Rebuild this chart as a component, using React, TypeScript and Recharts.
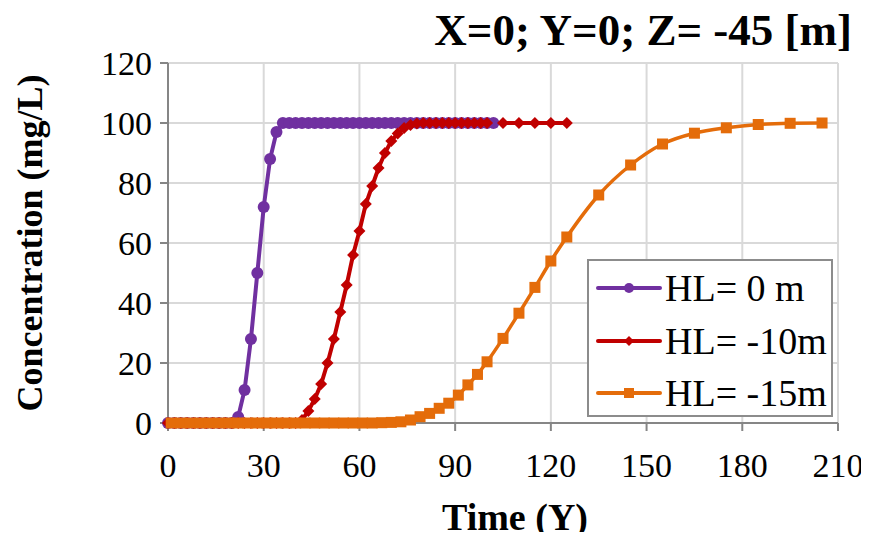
import React from 'react'
import {
  LineChart,
  Line,
  XAxis,
  YAxis,
  CartesianGrid,
} from 'recharts'

// ---------------------------------------------------------------------------
// Data
// ---------------------------------------------------------------------------

const HL0_T = [
  0, 2, 4, 6, 8, 10, 12, 14, 16, 18, 20, 22, 24, 26, 28, 30, 32, 34, 36, 38,
  40, 42, 44, 46, 48, 50, 52, 54, 56, 58, 60, 62, 64, 66, 68, 70, 72, 74, 76,
  78, 80, 82, 84, 86, 88, 90, 92, 94, 96, 98, 100, 102,
]
const HL0_C = [
  0, 0, 0, 0, 0, 0, 0, 0, 0, 0, 0, 2, 11, 28, 50, 72, 88, 97, 100, 100,
  100, 100, 100, 100, 100, 100, 100, 100, 100, 100, 100, 100, 100, 100, 100, 100, 100, 100, 100,
  100, 100, 100, 100, 100, 100, 100, 100, 100, 100, 100, 100, 100,
]

const HL10_T = [
  0, 2, 4, 6, 8, 10, 12, 14, 16, 18, 20, 22, 24, 26, 28, 30, 32, 34, 36, 38,
  40, 42, 44, 46, 48, 50, 52, 54, 56, 58, 60, 62, 64, 66, 68, 70, 72, 74, 76,
  78, 80, 82, 84, 86, 88, 90, 92, 94, 96, 98, 100, 105, 110, 115, 120, 125,
]
const HL10_C = [
  0, 0, 0, 0, 0, 0, 0, 0, 0, 0, 0, 0, 0, 0, 0, 0, 0, 0, 0, 0,
  0, 1, 4, 8, 13, 20, 28, 37, 46, 56, 64, 73, 79, 85, 90, 94, 96.5, 98.3, 99.3,
  99.8, 100, 100, 100, 100, 100, 100, 100, 100, 100, 100, 100, 100, 100, 100, 100, 100,
]

const HL15_T = [
  1, 4, 7, 10, 13, 16, 19, 22, 25, 28, 31, 34, 37, 40, 43, 46, 49, 52, 55, 58,
  61, 64, 67, 70, 73, 76, 79, 82, 85, 88, 91, 94, 97, 100, 105, 110, 115, 120,
  125, 135, 145, 155, 165, 175, 185, 195, 205,
]
const HL15_C = [
  0, 0, 0, 0, 0, 0, 0, 0, 0, 0, 0, 0, 0, 0, 0, 0, 0, 0, 0, 0,
  0, 0, 0.1, 0.2, 0.4, 1, 2.1, 3.2, 4.9, 6.6, 9.3, 12.7, 16.2, 20.4, 28.2, 36.6, 45.2, 54,
  62, 76, 86, 93, 96.6, 98.4, 99.5, 99.9, 100,
]

const X_TICKS = [0, 30, 60, 90, 120, 150, 180, 210]
const Y_TICKS = [0, 20, 40, 60, 80, 100, 120]

const zip = (t: number[], c: number[]) => t.map((v, i) => ({ t: v, c: c[i] }))

const SERIES = [
  { name: 'HL= 0 m', color: '#7030A0', shape: 'circle', data: zip(HL0_T, HL0_C) },
  { name: 'HL= -10m', color: '#C00000', shape: 'diamond', data: zip(HL10_T, HL10_C) },
  { name: 'HL= -15m', color: '#E46C0A', shape: 'square', data: zip(HL15_T, HL15_C) },
]

const FONT = '"Liberation Serif", "Times New Roman", serif'

// ---------------------------------------------------------------------------
// Markers
// ---------------------------------------------------------------------------

function Marker({ cx, cy, shape, color, size = 6 }: any) {
  if (cx == null || cy == null) return null
  if (shape === 'circle') return <circle cx={cx} cy={cy} r={size} fill={color} />
  if (shape === 'diamond') {
    const s = size
    return (
      <polygon
        points={`${cx},${cy - s} ${cx + s},${cy} ${cx},${cy + s} ${cx - s},${cy}`}
        fill={color}
      />
    )
  }
  return <rect x={cx - size} y={cy - size} width={size * 2} height={size * 2} fill={color} />
}

// legend drawn as an overlay so it doesn't eat plot height
function LegendBox() {
  return (
    <div
      style={{
        position: 'absolute',
        left: 587,
        top: 259,
        width: 246,
        height: 158,
        border: '2px solid #8c8c8c',
        boxSizing: 'border-box',
        background: '#fff',
        fontFamily: FONT,
        fontSize: 38,
        color: '#000',
        padding: '1px 0 0 7px',
        whiteSpace: 'nowrap',
      }}
    >
      {SERIES.map((s) => (
        <div key={s.name} style={{ display: 'flex', alignItems: 'center', height: 52.5 }}>
          <svg width={66} height={20} style={{ marginRight: 3, flexShrink: 0 }}>
            <line x1={2} y1={10} x2={64} y2={10} stroke={s.color} strokeWidth={4} strokeLinecap="round" />
            <Marker cx={33} cy={10} shape={s.shape} color={s.color} size={5} />
          </svg>
          <span style={{ lineHeight: 1 }}>{s.name}</span>
        </div>
      ))}
    </div>
  )
}

// ---------------------------------------------------------------------------
// Chart
// ---------------------------------------------------------------------------

export default function App() {
  const tickStyle = { fontFamily: FONT, fontSize: 34, fill: '#000' }
  return (
    <div style={{ position: 'relative', width: 869, height: 540, margin: -8, background: '#fff', overflow: 'hidden' }}>
      <LineChart
        width={869}
        height={540}
        margin={{ top: 63, right: 31, bottom: 0, left: 0 }}
        style={{ fontFamily: FONT }}
      >
        <CartesianGrid stroke="#d9d9d9" strokeWidth={2} />
        <XAxis
          type="number"
          dataKey="t"
          domain={[0, 210]}
          ticks={X_TICKS}
          interval={0}
          allowDuplicatedCategory={false}
          stroke="#868686"
          strokeWidth={2}
          tickSize={8}
          tickMargin={22}
          tick={tickStyle}
          height={117}
        />
        <YAxis
          type="number"
          domain={[0, 120]}
          ticks={Y_TICKS}
          interval={0}
          stroke="#868686"
          strokeWidth={2}
          tickSize={8}
          tickMargin={8}
          tick={tickStyle}
          width={168}
        />
        {SERIES.map((s) => (
          <Line
            key={s.name}
            data={s.data}
            dataKey="c"
            name={s.name}
            type={s.shape === 'square' ? 'monotone' : 'linear'}
            stroke={s.color}
            strokeWidth={s.shape === 'square' ? 3.5 : 4}
            dot={(p: any) => (
              <Marker
                key={`${s.name}-${p.index}`}
                cx={p.cx}
                cy={p.cy}
                shape={s.shape}
                color={s.color}
                size={s.shape === 'circle' ? 6 : s.shape === 'diamond' ? 6 : 5.5}
              />
            )}
            activeDot={false}
            isAnimationActive={false}
          />
        ))}
        <text x={852} y={45} textAnchor="end" fontFamily={FONT} fontWeight="bold" fontSize={45} fill="#000">
          X=0; Y=0; Z= -45 [m]
        </text>
        <text x={515} y={530} textAnchor="middle" fontFamily={FONT} fontWeight="bold" fontSize={38} fill="#000">
          Time (Y)
        </text>
        <text
          x={0}
          y={0}
          transform="translate(42, 243) rotate(-90)"
          textAnchor="middle"
          fontFamily={FONT}
          fontWeight="bold"
          fontSize={36}
          fill="#000"
        >
          Concentration (mg/L)
        </text>
      </LineChart>
      <LegendBox />
    </div>
  )
}
